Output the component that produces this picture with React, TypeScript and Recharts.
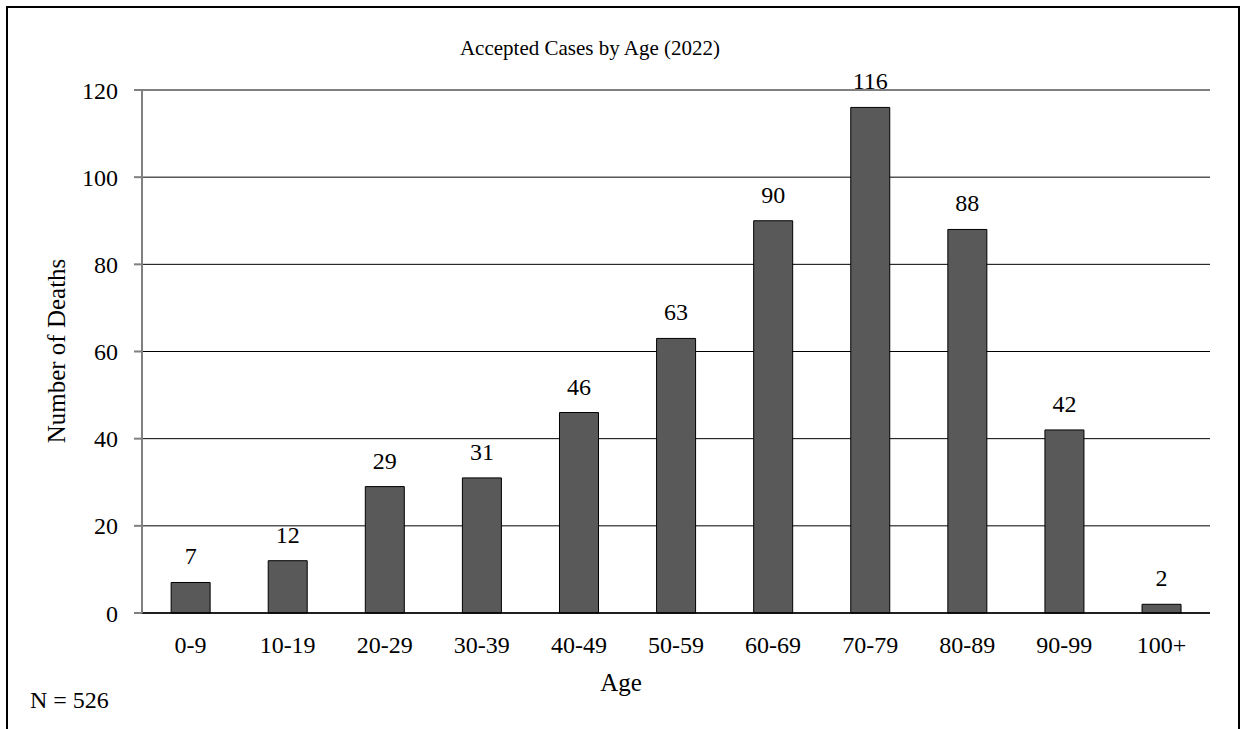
import { Bar, BarChart, CartesianGrid, LabelList, XAxis, YAxis } from 'recharts'

const AGE_GROUPS = ['0-9', '10-19', '20-29', '30-39', '40-49', '50-59', '60-69', '70-79', '80-89', '90-99', '100+']
const DEATHS = [7, 12, 29, 31, 46, 63, 90, 116, 88, 42, 2]
const Y_TICKS = [0, 20, 40, 60, 80, 100, 120]

const FONT = "'Liberation Serif', 'Times New Roman', serif"

export default function App() {
  const data = AGE_GROUPS.map((age, i) => ({ age, deaths: DEATHS[i] }))

  return (
    <div style={{ position: 'fixed', left: 0, top: 0, width: 1245, height: 729, overflow: 'hidden', background: '#fff' }}>
      <div
        style={{
          position: 'absolute',
          left: 6,
          top: 6,
          width: 1230,
          height: 800,
          border: '2px solid #000',
        }}
      />
      <div style={{ position: 'absolute', left: 0, top: 0 }}>
        <BarChart
          width={1245}
          height={729}
          data={data}
          margin={{ top: 90, right: 35, left: 62, bottom: 76 }}
          barCategoryGap="30%"
        >
          <CartesianGrid horizontal vertical={false} stroke="#000" strokeWidth={1} />
          <XAxis
            dataKey="age"
            tickLine={false}
            tickSize={0}
            tickMargin={23}
            height={40}
            axisLine={{ stroke: '#000', strokeWidth: 1.5 }}
            tick={{ fill: '#000', fontSize: 24, fontFamily: FONT }}
          />
          <YAxis
            domain={[0, 120]}
            ticks={Y_TICKS}
            width={80}
            tickSize={8}
            tickMargin={16}
            axisLine={{ stroke: '#808080', strokeWidth: 2 }}
            tickLine={{ stroke: '#808080', strokeWidth: 2 }}
            tick={{ fill: '#000', fontSize: 24, fontFamily: FONT }}
          />
          <YAxis
            yAxisId="frame"
            orientation="right"
            domain={[0, 120]}
            width={0}
            tick={false}
            tickLine={false}
            axisLine={{ stroke: '#000', strokeWidth: 1.5 }}
          />
          <Bar dataKey="deaths" fill="#595959" stroke="#000" strokeWidth={1} isAnimationActive={false}>
            <LabelList dataKey="deaths" position="top" offset={18} fill="#000" fontSize={24} fontFamily={FONT} />
          </Bar>
        </BarChart>
      </div>
      <svg width={1245} height={729} style={{ position: 'absolute', left: 0, top: 0, pointerEvents: 'none' }}>
        <text x={590} y={55} textAnchor="middle" fontSize={21} fontFamily={FONT} fill="#000">
          Accepted Cases by Age (2022)
        </text>
        <text transform="translate(65,351) rotate(-90)" textAnchor="middle" fontSize={25} fontFamily={FONT} fill="#000">
          Number of Deaths
        </text>
        <text x={621} y={691} textAnchor="middle" fontSize={25} fontFamily={FONT} fill="#000">
          Age
        </text>
        <text x={30} y={708} fontSize={24} fontFamily={FONT} fill="#000">
          N = 526
        </text>
      </svg>
    </div>
  )
}
